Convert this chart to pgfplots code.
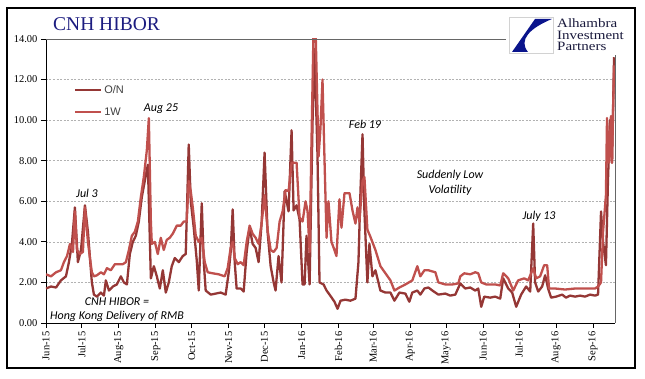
\documentclass[border=0pt]{standalone}
\usepackage{pgfplots}
\pgfplotsset{compat=1.18}
\usepackage{fontspec}
\setmainfont{Liberation Serif}
\newfontfamily\arialf{Liberation Sans}
\newfontfamily\carl{Carlito}
\definecolor{ondark}{HTML}{953735}
\definecolor{wlight}{HTML}{C0504D}
\definecolor{titleblue}{RGB}{28,28,128}
\definecolor{logoblue}{RGB}{10,20,140}
\definecolor{logotext}{RGB}{25,25,60}
\begin{document}
\begin{tikzpicture}[x=1pt,y=1pt]
\useasboundingbox (0,0) rectangle (645,379);
\fill[white] (0,0) rectangle (645,379);
\begin{axis}[at={(46pt,56pt)}, anchor=south west, scale only axis,
  width=569pt, height=284pt,
  xmin=0, xmax=476.4, ymin=0, ymax=14,
  axis x line=bottom, axis y line=left,
  axis line style={-, black, line width=0.8pt},
  xtick={0,30,61,92,122,153,183,214,245,274,305,335,366,396,427,458},
  xticklabels={Jun-15,Jul-15,Aug-15,Sep-15,Oct-15,Nov-15,Dec-15,Jan-16,Feb-16,Mar-16,Apr-16,May-16,Jun-16,Jul-16,Aug-16,Sep-16},
  xticklabel style={rotate=90, anchor=east, font=\fontsize{10.5}{10.5}\selectfont},
  ytick={0,2,...,14},
  yticklabel style={font=\fontsize{10.5}{10.5}\selectfont, /pgf/number format/fixed, /pgf/number format/fixed zerofill, /pgf/number format/precision=2},
  /pgf/number format/assume math mode=true,
  ymajorgrids, grid style={gray!60, dash pattern=on 2pt off 1.5pt, line width=0.5pt},
  tick align=outside, major tick length=5pt, tick style={black, line width=0.8pt},
  legend style={draw=none, fill=none, at={(0.049,0.845)}, anchor=north west, inner sep=0pt,
    row sep=9pt, font=\arialf\fontsize{11}{11}\selectfont, text=black!75},
  legend cell align=left,
  legend image code/.code={\draw[#1] (0pt,0pt) -- (26pt,0pt);},
  every axis plot/.append style={line width=2.3pt, line join=round},
]
\addplot[ondark] coordinates {
(0,1.7)(4.2,1.8)(8.4,1.75)(12.5,2.1)(16.7,2.3)(19.2,3.0)(21.7,3.9)(24.2,5.7)(26.7,3.0)(29.3,3.6)(32.6,5.8)(35.1,4.5)(36.8,3.2)(38.4,2.0)(40.1,1.4)(42.6,1.3)(46.0,1.5)(48.5,1.35)(50.1,2.1)(52.7,1.6)(56.0,1.8)(59.3,1.9)(62.7,2.3)(65.2,2.0)(67.7,1.9)(70.2,3.4)(72.7,4.0)(75.2,4.3)(77.7,5.0)(80.2,6.2)(82.7,7.0)(85.3,7.8)(87.8,2.2)(90.3,2.8)(92.8,2.3)(95.3,1.7)(97.8,2.6)(100.3,1.5)(102.8,2.0)(105.3,2.8)(107.8,3.2)(111.2,3.0)(114.5,3.3)(117.0,3.4)(119.5,8.8)(121.2,6.0)(123.7,4.7)(126.2,3.1)(127.9,1.6)(130.4,5.9)(132.1,3.0)(133.7,1.6)(137.9,1.4)(142.1,1.45)(146.3,1.5)(150.4,1.4)(153.0,2.5)(154.6,3.5)(156.3,5.6)(158.0,3.0)(159.6,1.7)(163.0,1.7)(165.5,1.55)(168.0,3.5)(170.5,4.7)(173.0,3.9)(175.5,3.7)(178.0,3.0)(180.5,4.9)(183.0,8.4)(185.5,4.5)(188.1,2.8)(190.6,2.0)(192.2,1.6)(194.7,3.3)(197.2,2.0)(199.8,6.5)(203.1,5.5)(205.6,9.5)(207.3,5.55)(209.8,5.8)(212.3,5.1)(214.8,1.9)(216.5,1.9)(218.1,4.3)(220.7,1.9)(223.2,10.0)(224.8,13.5)(227.3,8.3)(229.0,2.0)(232.4,1.9)(234.9,1.6)(237.4,1.4)(241.5,1.05)(244.1,0.7)(246.6,1.1)(250.7,1.15)(254.9,1.1)(259.1,1.2)(261.6,3.0)(263.3,6.5)(265.0,9.3)(266.6,5.5)(269.1,2.0)(270.8,3.9)(273.3,2.3)(275.8,2.6)(280.0,1.6)(284.2,1.5)(288.4,1.5)(291.7,1.1)(295.9,1.5)(300.9,1.45)(304.2,1.05)(306.7,1.5)(310.9,1.6)(313.4,1.4)(316.8,1.7)(320.1,1.75)(323.5,1.6)(328.5,1.4)(334.3,1.45)(338.5,1.35)(342.7,1.4)(346.9,1.95)(351.0,1.7)(355.2,1.75)(359.4,1.6)(361.9,1.7)(364.4,0.8)(366.9,1.3)(371.9,1.25)(376.1,1.3)(380.3,1.2)(382.8,2.2)(387.0,1.7)(390.3,1.5)(393.7,0.8)(397.8,1.4)(402.0,1.8)(405.4,1.55)(407.9,4.9)(409.5,2.0)(412.1,1.55)(415.4,1.8)(417.9,2.35)(420.4,1.7)(422.9,1.25)(427.1,1.3)(432.1,1.4)(435.4,1.25)(438.8,1.35)(443.0,1.3)(447.2,1.35)(451.3,1.3)(455.5,1.4)(459.7,1.35)(462.2,1.4)(464.7,5.5)(466.4,4.0)(468.8,2.85)(470.5,7.0)(472.2,10.0)(473.9,7.9)(475.6,13.1)
};
\addlegendentry{O/N}
\addplot[wlight] coordinates {
(0,2.4)(4.2,2.3)(8.4,2.5)(12.5,2.6)(15.0,3.0)(17.6,3.3)(20.1,3.9)(22.6,3.5)(24.2,5.5)(25.9,3.6)(28.4,3.4)(30.9,3.5)(32.6,5.7)(35.1,4.0)(36.8,3.2)(38.4,2.5)(40.1,2.3)(42.6,2.35)(46.0,2.5)(48.5,2.4)(51.0,2.7)(54.3,2.6)(57.7,2.9)(61.0,2.9)(64.4,2.9)(66.9,3.0)(69.4,3.6)(71.9,4.3)(74.4,4.5)(76.9,5.0)(79.4,6.2)(81.9,7.2)(84.4,8.5)(86.1,10.1)(87.8,5.0)(88.6,3.9)(91.1,4.0)(93.6,3.4)(96.1,4.2)(98.6,3.6)(101.1,4.1)(103.6,4.2)(106.1,4.4)(109.5,4.8)(112.8,4.8)(115.3,5.0)(117.8,5.0)(119.5,7.0)(121.2,6.5)(122.9,5.7)(125.4,4.3)(127.9,4.0)(130.4,4.2)(132.9,3.0)(135.4,2.5)(139.6,2.45)(144.6,2.4)(149.6,2.3)(152.1,2.7)(154.6,3.7)(156.3,4.0)(158.0,3.2)(160.5,2.9)(163.0,3.0)(165.5,2.85)(168.0,4.0)(170.5,4.8)(173.0,4.4)(175.5,4.2)(178.0,3.9)(180.5,4.9)(183.0,6.3)(185.5,4.6)(188.1,3.6)(190.6,3.5)(193.1,3.7)(195.6,5.0)(198.1,5.5)(200.6,6.55)(203.1,6.5)(205.6,7.9)(209.8,7.9)(212.3,5.2)(214.8,5.0)(217.3,6.0)(219.0,5.5)(220.7,3.5)(222.3,9.0)(224.0,14.5)(225.7,14.5)(228.2,8.2)(229.8,9.6)(231.5,12.0)(233.2,8.0)(234.9,4.2)(236.5,6.0)(239.0,4.0)(241.5,3.6)(243.2,3.3)(245.7,6.1)(247.4,4.7)(249.9,6.4)(254.1,6.4)(256.6,5.55)(259.1,4.9)(260.8,5.7)(262.4,5.0)(265.0,7.0)(266.6,7.2)(269.1,4.6)(271.6,4.25)(275.8,3.6)(280.0,2.8)(284.2,2.45)(288.4,2.1)(291.7,1.6)(295.9,1.75)(300.9,1.9)(306.7,2.1)(310.9,2.8)(313.4,2.3)(316.8,2.6)(320.1,2.6)(326.0,2.5)(328.5,2.0)(334.3,1.9)(340.2,1.9)(345.2,1.95)(346.9,2.3)(350.2,2.45)(355.2,2.4)(359.4,2.5)(361.9,2.45)(364.4,2.0)(368.6,1.9)(376.1,1.9)(380.3,1.85)(382.8,2.45)(387.0,2.2)(391.2,1.6)(395.3,2.1)(400.4,2.2)(403.7,2.1)(407.9,2.7)(410.4,2.2)(413.7,2.3)(417.1,2.85)(419.6,2.85)(421.2,1.7)(426.3,1.7)(434.6,1.65)(443.0,1.7)(451.3,1.7)(459.7,1.7)(462.2,1.8)(464.7,2.0)(466.4,4.5)(468.8,6.3)(469.7,10.1)(471.4,7.9)(473.0,10.2)(473.9,7.9)(475.6,12.7)
};
\addlegendentry{1W}
\end{axis}
% top and right frame of plot area
\draw[gray!80!black, line width=0.7pt] (46,340) -- (615,340) -- (615,56);
% logo
\fill[white] (506,324) rectangle (632,366);
\draw[gray!35, line width=0.6pt] (509,326) rectangle (553,362);
\fill[logoblue] (552,360) -- (535,360) -- (512,327) -- (528,327) .. controls (518,339) and (530,351) .. (552,360);
\node[anchor=north west, inner sep=0pt, yscale=0.85, transform shape, text=logotext,
  align=left, font=\fontsize{15}{13.6}\selectfont] at (557,360.5) {Alhambra\\Investment\\Partners};
% title
\node[anchor=base west, inner sep=0pt, text=titleblue, font=\fontsize{19.5}{19.5}\selectfont] at (53,348) {CNH HIBOR};
% annotations
\begin{scope}[every node/.style={inner sep=0pt, font=\carl\itshape\fontsize{12}{12}\selectfont}]
\node at (87,186) {Jul 3};
\node at (161,270) {Aug 25};
\node at (365,255) {Feb 19};
\node at (450,204) {Suddenly Low};
\node at (450,189) {Volatility};
\node at (539,163) {July 13};
\node at (117,77) {CNH HIBOR =};
\node at (117,63) {Hong Kong Delivery of RMB};
\end{scope}
% outer frame
\draw[black, line width=1.2pt] (7,11) rectangle (635,371);
\end{tikzpicture}
\end{document}
